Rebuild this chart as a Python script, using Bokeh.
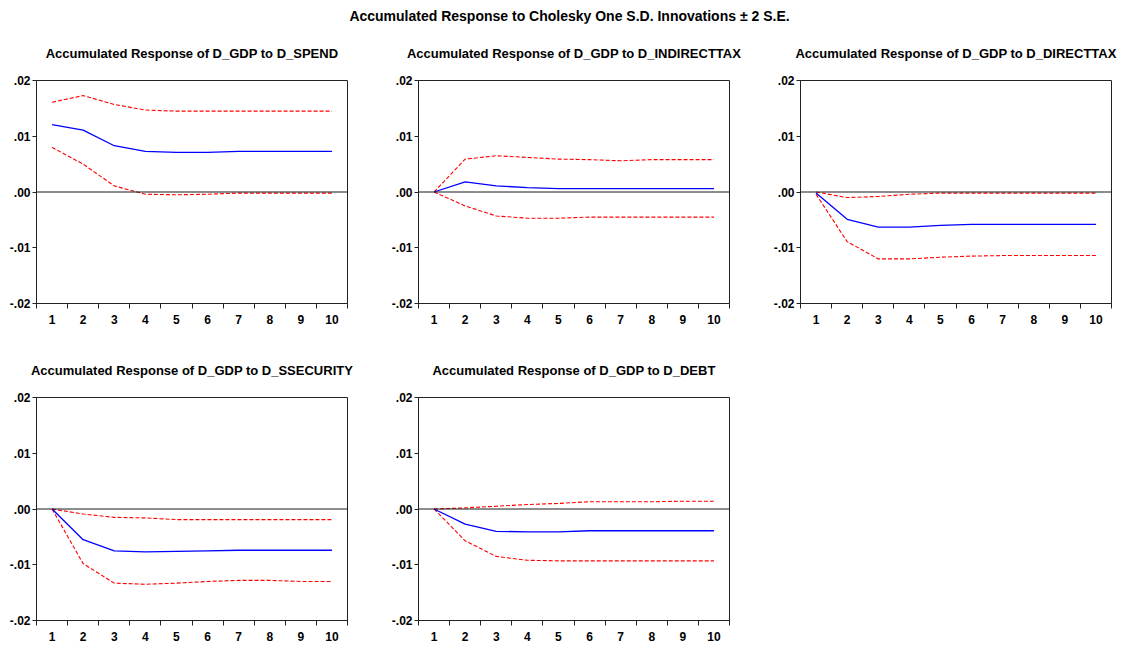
from bokeh.plotting import figure
from bokeh.models import FixedTicker, Span, Title, Range1d, Div
from bokeh.layouts import column, row
from bokeh.embed import file_html
from bokeh.resources import INLINE

periods = [1, 2, 3, 4, 5, 6, 7, 8, 9, 10]

main_title = "Accumulated Response to Cholesky One S.D. Innovations \u00b1 2 S.E."

titles = [
    "Accumulated Response of D_GDP to D_SPEND",
    "Accumulated Response of D_GDP to D_INDIRECTTAX",
    "Accumulated Response of D_GDP to D_DIRECTTAX",
    "Accumulated Response of D_GDP to D_SSECURITY",
    "Accumulated Response of D_GDP to D_DEBT",
]

spend_resp = [0.0121, 0.0111, 0.0083, 0.0073, 0.0071, 0.0071, 0.0073, 0.0073, 0.0073, 0.0073]
spend_upper = [0.0161, 0.0173, 0.0157, 0.0147, 0.0145, 0.0145, 0.0145, 0.0145, 0.0145, 0.0145]
spend_lower = [0.0080, 0.0050, 0.0011, -0.0004, -0.0005, -0.0004, -0.0002, -0.0002, -0.0002, -0.0002]

indtax_resp = [0.0, 0.0018, 0.0011, 0.0008, 0.0006, 0.0006, 0.0006, 0.0006, 0.0006, 0.0006]
indtax_upper = [0.0, 0.0059, 0.0065, 0.0062, 0.0059, 0.0058, 0.0056, 0.0058, 0.0058, 0.0058]
indtax_lower = [0.0, -0.0025, -0.0043, -0.0047, -0.0047, -0.0045, -0.0045, -0.0045, -0.0045, -0.0045]

dirtax_resp = [-0.0002, -0.0049, -0.0063, -0.0063, -0.0060, -0.0058, -0.0058, -0.0058, -0.0058, -0.0058]
dirtax_upper = [0.0, -0.0010, -0.0008, -0.0004, -0.0002, -0.0002, -0.0002, -0.0002, -0.0002, -0.0002]
dirtax_lower = [-0.0004, -0.0089, -0.0120, -0.0120, -0.0117, -0.0115, -0.0114, -0.0114, -0.0114, -0.0114]

ssec_resp = [0.0, -0.0055, -0.0075, -0.0077, -0.0076, -0.0075, -0.0074, -0.0074, -0.0074, -0.0074]
ssec_upper = [0.0, -0.0009, -0.0015, -0.0016, -0.0019, -0.0019, -0.0019, -0.0019, -0.0019, -0.0019]
ssec_lower = [0.0, -0.0098, -0.0133, -0.0135, -0.0133, -0.0130, -0.0128, -0.0128, -0.0130, -0.0130]

debt_resp = [0.0, -0.0027, -0.0040, -0.0041, -0.0041, -0.0039, -0.0039, -0.0039, -0.0039, -0.0039]
debt_upper = [0.0, 0.0002, 0.0005, 0.0008, 0.0010, 0.0013, 0.0013, 0.0013, 0.0014, 0.0014]
debt_lower = [0.0, -0.0057, -0.0085, -0.0092, -0.0093, -0.0093, -0.0093, -0.0093, -0.0093, -0.0093]

y_ticks = [-0.02, -0.01, 0.0, 0.01, 0.02]
y_tick_labels = ["-.02", "-.01", ".00", ".01", ".02"]

FONT = "Liberation Sans"


def make_panel(title, resp, upper, lower, border_left, border_right, border_top, border_bottom):
    p = figure(
        frame_width=311, frame_height=223,
        x_range=Range1d(0.5, 10.5), y_range=Range1d(-0.02, 0.02),
        output_backend="svg", toolbar_location=None, tools="",
        min_border_left=border_left, min_border_right=border_right,
        min_border_top=border_top, min_border_bottom=border_bottom,
        background_fill_color="white", border_fill_color="white",
        outline_line_color="#222222", outline_line_width=1,
    )
    p.xgrid.visible = False
    p.ygrid.visible = False

    # x axis
    xa = p.xaxis[0]
    xa.ticker = FixedTicker(ticks=periods, minor_ticks=[x - 0.5 for x in periods] + [10.5])
    xa.major_tick_out = 0
    xa.major_tick_in = 0
    xa.minor_tick_out = 5
    xa.minor_tick_in = 0
    xa.minor_tick_line_color = "#222222"
    xa.axis_line_color = "#222222"
    xa.major_label_standoff = 6
    xa.major_label_text_font = FONT
    xa.major_label_text_font_style = "bold"
    xa.major_label_text_font_size = "12px"
    xa.major_label_text_color = "black"

    # y axis
    ya = p.yaxis[0]
    ya.ticker = FixedTicker(ticks=y_ticks, minor_ticks=[])
    ya.major_label_overrides = {t: s for t, s in zip(y_ticks, y_tick_labels)}
    ya.major_tick_out = 4
    ya.major_tick_in = 0
    ya.minor_tick_out = 0
    ya.minor_tick_in = 0
    ya.major_tick_line_color = "#222222"
    ya.axis_line_color = "#222222"
    ya.major_label_standoff = 2
    ya.major_label_text_font = FONT
    ya.major_label_text_font_style = "bold"
    ya.major_label_text_font_size = "12px"
    ya.major_label_text_color = "black"

    p.add_layout(Span(location=0, dimension="width", line_color="#1a1a1a", line_width=1))

    p.line(periods, upper, line_color="red", line_width=1.1, line_dash="4 2")
    p.line(periods, lower, line_color="red", line_width=1.1, line_dash="4 2")
    p.line(periods, resp, line_color="blue", line_width=1.3)

    p.add_layout(Title(text=title, align="center", text_font=FONT, text_font_style="bold",
                       text_font_size="13px", text_color="black", standoff=40), "above")
    return p


header = Div(
    text=main_title, width=1125, height=23, margin=(0, 0, 0, 0),
    styles={"text-align": "center", "font-family": FONT, "font-size": "14px",
            "font-weight": "bold", "color": "black", "padding-top": "8px",
            "padding-left": "14px", "line-height": "16px", "box-sizing": "border-box",
            "width": "1125px", "overflow": "visible"},
)

p1 = make_panel(titles[0], spend_resp, spend_upper, spend_lower, 36, 35, 57, 37)
p2 = make_panel(titles[1], indtax_resp, indtax_upper, indtax_lower, 36, 35, 57, 37)
p3 = make_panel(titles[2], dirtax_resp, dirtax_upper, dirtax_lower, 36, 14, 57, 37)
p4 = make_panel(titles[3], ssec_resp, ssec_upper, ssec_lower, 36, 35, 57, 26)
p5 = make_panel(titles[4], debt_resp, debt_upper, debt_lower, 36, 35, 57, 26)

layout = column(header, row(p1, p2, p3), row(p4, p5))

open("out.html", "w").write(file_html(layout, INLINE))
